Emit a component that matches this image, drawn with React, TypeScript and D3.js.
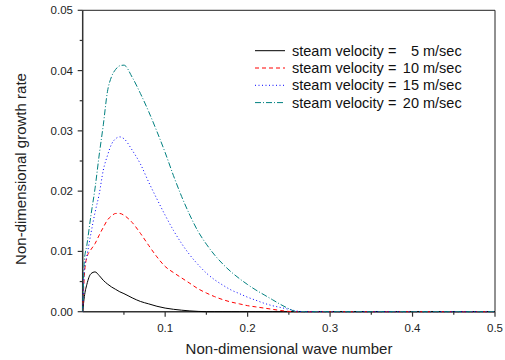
import React from 'react';
import * as d3 from 'd3';

// wave numbers shared by all series
const waveNumber = [
  0, 0.002, 0.005, 0.01, 0.015, 0.02, 0.025, 0.03, 0.035, 0.04, 0.045, 0.05,
  0.06, 0.07, 0.08, 0.09, 0.1, 0.11, 0.12, 0.13, 0.14, 0.15, 0.16, 0.17, 0.18,
  0.19, 0.2, 0.21, 0.22, 0.23, 0.24, 0.25, 0.26, 0.27, 0.3, 0.4, 0.5,
];

const growth5 = [
  0, 0.0025, 0.0045, 0.0063, 0.0066, 0.006, 0.0052, 0.0046, 0.0041, 0.0037,
  0.0033, 0.003, 0.0023, 0.0017, 0.0013, 0.0009, 0.0006, 0.0004, 0.00025,
  0.00013, 0.00005, 0, 0, 0, 0, 0, 0, 0, 0, 0, 0, 0, 0, 0, 0, 0, 0,
];
const growth10 = [
  0, 0.006, 0.009, 0.0103, 0.0113, 0.0127, 0.014, 0.0152, 0.0159, 0.0163,
  0.0163, 0.016, 0.0148, 0.013, 0.011, 0.0091, 0.0075, 0.0065, 0.0056,
  0.0047, 0.0038, 0.0031, 0.0025, 0.002, 0.0016, 0.0013, 0.001, 0.0008,
  0.0006, 0.0004, 0.0002, 0.00005, 0, 0, 0, 0, 0,
];
const growth15 = [
  0, 0.007, 0.0092, 0.013, 0.0165, 0.0195, 0.0235, 0.0259, 0.0278, 0.0287,
  0.029, 0.0287, 0.0268, 0.0245, 0.0215, 0.0187, 0.016, 0.0135, 0.0113,
  0.0094, 0.0078, 0.0064, 0.0053, 0.0044, 0.0036, 0.003, 0.0024, 0.0019,
  0.0014, 0.001, 0.0007, 0.0004, 0.0001, 0, 0, 0, 0,
];
const growth20 = [
  0, 0.0085, 0.011, 0.016, 0.0205, 0.026, 0.031, 0.0365, 0.039, 0.0402,
  0.0408, 0.0409, 0.0389, 0.0362, 0.0332, 0.0299, 0.0264, 0.0226, 0.0191,
  0.016, 0.0133, 0.0112, 0.0094, 0.0079, 0.0066, 0.0055, 0.0045, 0.0036,
  0.0028, 0.002, 0.0012, 0.0005, 0, 0, 0, 0, 0,
];

const velocities = ['5', '10', '15', '20'];
const xTicks = [0.1, 0.2, 0.3, 0.4, 0.5];
const yTicks = [0, 0.01, 0.02, 0.03, 0.04, 0.05];

const seriesStyle = [
  { color: '#000000', dash: null },
  { color: '#ff0000', dash: '4,3' },
  { color: '#0000ff', dash: '1,2.5' },
  { color: '#008080', dash: '6,2,1,2' },
];

const W = 505;
const H = 360;
const font = 'Arial, "Liberation Sans", sans-serif';

export default function App() {
  const x = d3.scaleLinear().domain([0, 0.5]).range([82.7, 495]);
  const y = d3.scaleLinear().domain([0, 0.05]).range([311.7, 10.3]);

  const all = [growth5, growth10, growth15, growth20];
  const line = d3
    .line<number>()
    .x((_, i) => x(waveNumber[i]))
    .y((v) => y(v))
    .curve(d3.curveMonotoneX);

  const xMinor = d3.range(0.05, 0.5, 0.1);
  const yMinor = d3.range(0.005, 0.05, 0.01);
  const [x0, x1] = x.range();
  const [y0, y1] = y.range();

  return (
    <div style={{ position: 'fixed', left: 0, top: 0 }}>
      <svg width={W} height={H} style={{ display: 'block', background: '#fff' }} fontFamily={font}>
        {/* frame */}
        <line x1={x0} x2={x1} y1={y1} y2={y1} stroke="#222" strokeWidth={1} />
        <line x1={x1} x2={x1} y1={y1} y2={y0} stroke="#222" strokeWidth={1} />
        <line x1={x0} x2={x1} y1={y0} y2={y0} stroke="#333" strokeWidth={1.5} />
        <line x1={x0} x2={x0} y1={y1} y2={y0} stroke="#333" strokeWidth={1.5} />

        {/* curves */}
        {all.map((s, k) => (
          <path
            key={k}
            d={line(s) || ''}
            fill="none"
            stroke={seriesStyle[k].color}
            strokeWidth={1}
            strokeDasharray={seriesStyle[k].dash || undefined}
          />
        ))}

        {/* x axis ticks */}
        {xTicks.map((t) => (
          <g key={t}>
            <line x1={x(t)} x2={x(t)} y1={y0} y2={y0 + 5} stroke="#333" strokeWidth={1.2} />
            <text x={x(t)} y={332} textAnchor="middle" fontSize={11.5} fill="#222">
              {t}
            </text>
          </g>
        ))}
        {xMinor.map((t) => (
          <line key={t} x1={x(t)} x2={x(t)} y1={y0} y2={y0 + 3} stroke="#333" strokeWidth={1.2} />
        ))}

        {/* y axis ticks */}
        {yTicks.map((t) => (
          <g key={t}>
            <line x1={x0 - 5} x2={x0} y1={y(t)} y2={y(t)} stroke="#333" strokeWidth={1.2} />
            <text x={73} y={y(t) + 4} textAnchor="end" fontSize={11.5} fill="#222">
              {d3.format('.2f')(t)}
            </text>
          </g>
        ))}
        {yMinor.map((t) => (
          <line key={t} x1={x0 - 3} x2={x0} y1={y(t)} y2={y(t)} stroke="#333" strokeWidth={1.2} />
        ))}

        {/* axis titles */}
        <text x={289} y={354} textAnchor="middle" fontSize={15} fill="#222">
          Non-dimensional wave number
        </text>
        <text
          transform={`translate(26,${169}) rotate(-90)`}
          textAnchor="middle"
          fontSize={15}
          fill="#222"
        >
          Non-dimensional growth rate
        </text>

        {/* legend */}
        {velocities.map((v, k) => {
          const ly = 50.7 + k * 17.3;
          return (
            <g key={v}>
              <line
                x1={255}
                x2={285}
                y1={ly}
                y2={ly}
                stroke={seriesStyle[k].color}
                strokeWidth={1}
                strokeDasharray={seriesStyle[k].dash || undefined}
              />
              <text x={292} y={ly + 5} fontSize={14.5} fill="#111">
                steam velocity =
              </text>
              <text x={461.7} y={ly + 5} fontSize={14.5} fill="#111" textAnchor="end">
                {v} m/sec
              </text>
            </g>
          );
        })}
      </svg>
    </div>
  );
}
